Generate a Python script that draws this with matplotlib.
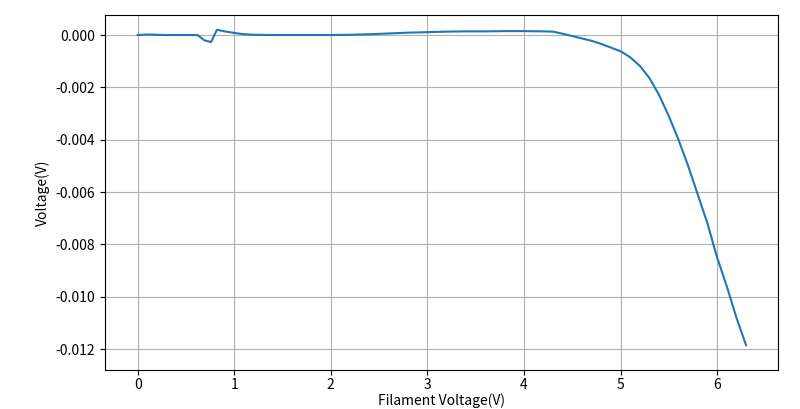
import matplotlib
matplotlib.use('Agg')
import matplotlib.pyplot as plt

plt.rcParams['font.family'] = ['Noto Sans CJK SC', 'DejaVu Sans']
plt.rcParams['axes.unicode_minus'] = False

filament_v = [0.0, 0.1, 0.2, 0.3, 0.4, 0.5, 0.62, 0.69, 0.76, 0.82, 0.9,
              1.0, 1.1, 1.2, 1.4, 1.6, 1.8, 2.0, 2.2, 2.4, 2.6, 2.8, 3.0,
              3.2, 3.4, 3.6, 3.8, 4.0, 4.2, 4.3, 4.4, 4.5, 4.6, 4.7, 4.8,
              4.9, 5.0, 5.1, 5.2, 5.3, 5.4, 5.5, 5.6, 5.7, 5.8, 5.9, 6.0,
              6.1, 6.2, 6.3]
measured_v = [0.0, 0.00002, 0.00001, 0.0, 0.0, 0.0, 0.0, -0.0002, -0.00027,
              0.0002, 0.00014, 0.00008, 0.00003, 0.00001, 0.0, 0.0, 0.0,
              0.0, 0.00001, 0.00003, 0.00006, 0.00009, 0.00011, 0.00013,
              0.00014, 0.00014, 0.00015, 0.00015, 0.00014, 0.00013, 0.00005,
              -0.00004, -0.00013, -0.00022, -0.00034, -0.00048, -0.00062,
              -0.00085, -0.00118, -0.00165, -0.0023, -0.0031, -0.0040,
              -0.0050, -0.0061, -0.0072, -0.0085, -0.0096, -0.0108, -0.01185]

fig = plt.figure(figsize=(8, 4.09), dpi=100)
ax = fig.add_axes([0.131, 0.095, 0.8415, 0.868])
ax.plot(filament_v, measured_v, color='#1f77b4', linewidth=1.5)
ax.set_xlabel('Filament Voltage(V)', labelpad=1)
ax.set_ylabel('Voltage(V)')
ax.set_xlim(-0.34, 6.63)
ax.set_ylim(-0.0128, 0.00076)
ax.tick_params(axis='x', pad=2)
ax.grid(True)

fig.savefig('out.png')
